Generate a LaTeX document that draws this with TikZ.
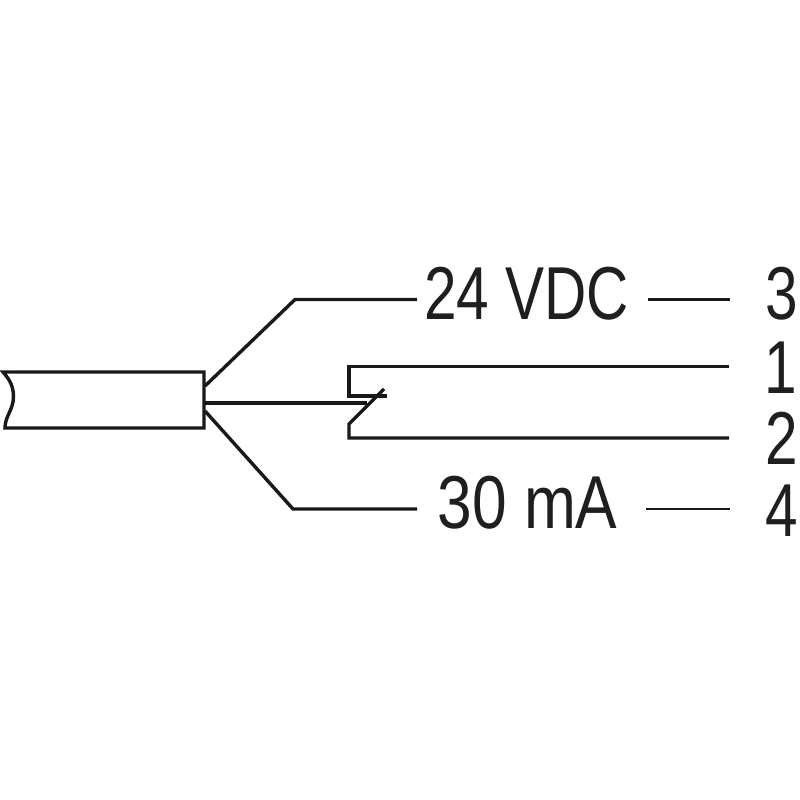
\documentclass[tikz,border=0pt]{standalone}
\usepackage{fontspec}
\setmainfont[FakeStretch=0.78]{Liberation Sans}
\newfontfamily\widerface[FakeStretch=0.83]{Liberation Sans}
\begin{document}
\begin{tikzpicture}[x=1pt,y=-1pt,
  wire/.style={draw=black!90,line width=3.4pt,line cap=butt,line join=miter},
  thinwire/.style={draw=black!90,line width=2.8pt,line cap=butt,line join=miter},
  lbl/.style={inner sep=0pt,anchor=base,font=\fontsize{75}{75}\selectfont,text=black!88}]
\useasboundingbox (0,0) rectangle (800,800);
\fill[white] (0,0) rectangle (800,800);
% cable
\draw[wire] (3,372) .. controls (10,380) and (15,388) .. (13,402) .. controls (11,412) and (5,418) .. (5,428) -- (204,428) -- (204,372) -- cycle;
% coordinates
\coordinate (c1) at (205,386);
\coordinate (c2) at (205,403);
\coordinate (c3) at (205,411);
\coordinate (ub) at (295,299.5);
\coordinate (lb) at (293,509);
\coordinate (ue) at (417,299.5);
\coordinate (le) at (417,509);
\coordinate (us) at (648,299.5);
\coordinate (ut) at (730,299.5);
\coordinate (ls) at (646,509);
\coordinate (lt) at (730,509);
\coordinate (t1) at (729,366.5);
\coordinate (t2) at (729,438);
\coordinate (k1) at (349,366.5);
\coordinate (k2) at (349,396);
\coordinate (k3) at (387,396);
\coordinate (k4) at (349,424);
\coordinate (k5) at (349,438);
\coordinate (k6) at (384,389);
\coordinate (k7) at (367,403);
% wires
\draw[wire] (c1) -- (ub) -- (ue);
\draw[wire] (c3) -- (lb) -- (le);
\draw[wire] (c2) -- (k7);
\draw[thinwire] (us) -- (ut);
\draw[thinwire] (ls) -- (lt);
\draw[wire] (t1) -- (k1) -- (k2) -- (k3);
\draw[wire] (k6) -- (k4) -- (k5) -- (t2);
% labels
\node[lbl] (v) at (526.5,319) {24 VDC};
\node[lbl] (a) at (527.5,528) {\widerface 30 mA};
\node[lbl] (n3) at (782,319) {3};
\node[lbl] (n1) at (781,393) {1};
\node[lbl] (n2) at (782,464) {2};
\node[lbl] (n4) at (782,536) {4};
\end{tikzpicture}
\end{document}
